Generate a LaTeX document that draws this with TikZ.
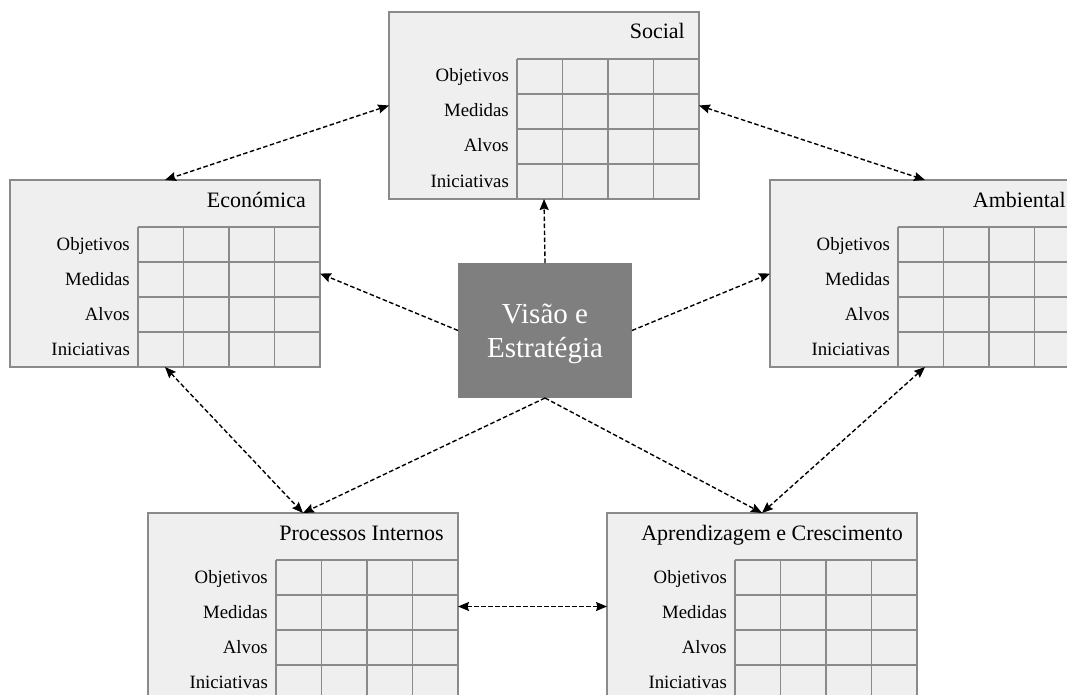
\documentclass[tikz,border=0pt]{standalone}
\usepackage{fontspec}
\setmainfont{Liberation Serif}
\usetikzlibrary{arrows.meta}

\definecolor{panelfill}{HTML}{EFEFEF}
\definecolor{panelline}{HTML}{8A8A8A}
\definecolor{corefill}{HTML}{7F7F7F}

\tikzset{
  panel/.style={draw=panelline, fill=panelfill, line width=1.5pt,
    minimum width=310pt, minimum height=187pt, inner sep=0pt, outer sep=0pt},
  gridline/.style={draw=panelline, line width=1.4pt},
  paneltitle/.style={inner sep=0pt, font=\fontsize{22}{26}\selectfont},
  rowlabel/.style={inner sep=0pt, font=\fontsize{18.8}{22}\selectfont},
  core/.style={fill=corefill, minimum width=174pt, minimum height=135pt,
    inner sep=0pt, outer sep=0pt},
  coretext/.style={text=white, align=center, inner sep=0pt,
    font=\fontsize{29}{34}\selectfont},
  link/.style={draw=black, line width=1.4pt, dash pattern=on 4.5pt off 2.5pt,
    >={Stealth[length=11pt, width=9pt, inset=1.5pt]}},
}

% One perspective panel: name, left x, top y, title
\newcommand\bscpanel[4]{%
  \node[panel, anchor=north west] (#1) at (#2,#3) {};
  \node[paneltitle, anchor=base east] (#1-t) at ({#2+296},{#3+27}) {#4};
  \foreach \i in {0,...,4}
    \draw[gridline] ({#2+128},{#3+47+35*\i}) -- ({#2+310},{#3+47+35*\i});
  \foreach \j in {0,...,4}
    \draw[gridline] ({#2+128+45.5*\j},{#3+47}) -- ({#2+128+45.5*\j},{#3+187});
  \foreach \lab [count=\k] in {Objetivos,Medidas,Alvos,Iniciativas}
    \node[rowlabel, anchor=base east] (#1-r\k) at ({#2+120},{#3+47+35*\k-12}) {\lab};
}

\begin{document}
\begin{tikzpicture}[x=1pt, y=-1pt]
  \useasboundingbox (0,0) rectangle (1067,695);
  \clip (0,0) rectangle (1067,695);

  % the five perspectives
  \bscpanel{soc}{389}{12}{Social}
  \bscpanel{eco}{10}{180}{Económica}
  \bscpanel{amb}{770}{180}{Ambiental}
  \bscpanel{pro}{148}{513}{Processos Internos}
  \bscpanel{apr}{607}{513}{Aprendizagem e Crescimento}

  % central vision block
  \node[core] (cen) at (545,330.5) {};
  \node[coretext] (cen-t) at (545,334) {Visão e\\Estratégia};

  % links from the centre
  \draw[link, ->] (cen.north) -- (soc.south);
  \draw[link, ->] (cen.west) -- (eco.east);
  \draw[link, ->] (cen.east) -- (amb.west);
  \draw[link, ->] (cen.south) -- (pro.north);
  \draw[link, ->] (cen.south) -- (apr.north);

  % links between perspectives
  \draw[link, <->] (soc.west) -- (eco.north);
  \draw[link, <->] (soc.east) -- (amb.north);
  \draw[link, <->] (eco.south) -- (pro.north);
  \draw[link, <->] (amb.south) -- (apr.north);
  \draw[link, <->] (pro.east) -- (apr.west);
\end{tikzpicture}
\end{document}
